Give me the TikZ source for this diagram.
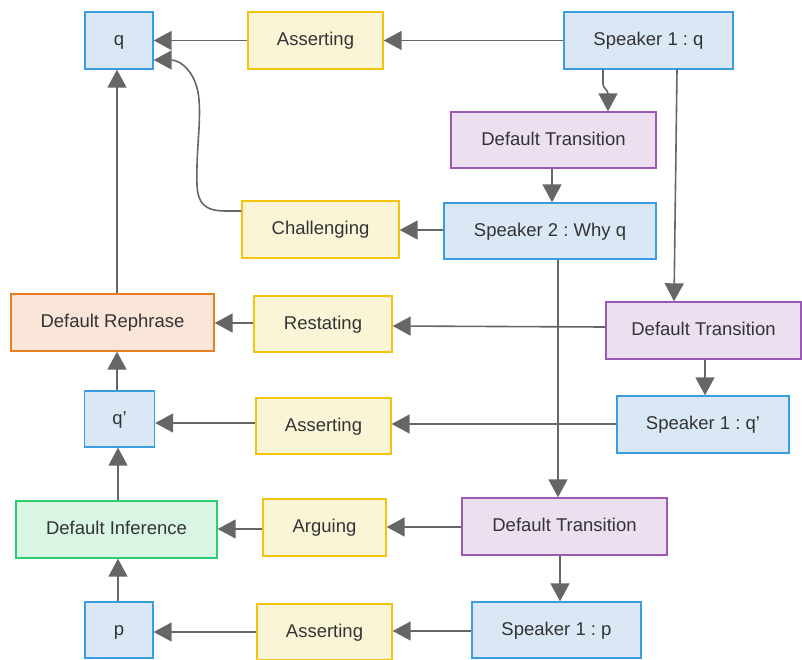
\documentclass[tikz,border=0pt]{standalone}
\usepackage{fontspec}
\setmainfont{Liberation Sans}
\usetikzlibrary{arrows.meta}
\frenchspacing

\definecolor{bluefill}{HTML}{DAE8F6}
\definecolor{bluedraw}{HTML}{3A9DE0}
\definecolor{yelfill}{HTML}{FBF5D8}
\definecolor{yeldraw}{HTML}{F2C40F}
\definecolor{purfill}{HTML}{EBDFF0}
\definecolor{purdraw}{HTML}{9B59B6}
\definecolor{orafill}{HTML}{FAE5D9}
\definecolor{oradraw}{HTML}{E67E22}
\definecolor{grefill}{HTML}{D9F5E4}
\definecolor{gredraw}{HTML}{2ECC71}
\definecolor{edgecol}{HTML}{666666}
\definecolor{txtcol}{HTML}{333333}

\tikzset{
  box/.style={draw, line width=1.4pt, inner sep=0pt, text=txtcol,
    text height=14pt, text depth=3.6pt,
    font=\fontsize{18.5}{22}\selectfont},
  speaker/.style={box, fill=bluefill, draw=bluedraw},
  act/.style={box, fill=yelfill, draw=yeldraw},
  transit/.style={box, fill=purfill, draw=purdraw},
  rephrase/.style={box, fill=orafill, draw=oradraw},
  infer/.style={box, fill=grefill, draw=gredraw},
  sz/.style 2 args={minimum width=#1pt, minimum height=#2pt},
  arr/.style={draw=edgecol, line width=1.6pt,
    -{Triangle[length=18pt,width=19pt,fill=edgecol]}},
}

\begin{document}
\begin{tikzpicture}[x=1pt,y=-1pt]
\useasboundingbox (0,0) rectangle (802,659);

% propositions and speaker moves
\node[speaker, sz={68}{57}]  (q)    at (119,40.5)   {q};
\node[act, sz={135}{57}]     (asA)  at (315.5,40.5) {Asserting};
\node[speaker, sz={169}{57}] (s1q)  at (648.5,40.5) {Speaker 1 : q};
\node[transit, sz={205}{56}] (dt1)  at (553.5,140)  {Default Transition};
\node[speaker, sz={212}{56}] (s2)   at (550,231)    {Speaker 2 : Why q};
\node[act, sz={157}{57}]     (chal) at (320.5,229.5){Challenging};
\node[rephrase, sz={203}{57}](reph) at (112.5,322.5){Default Rephrase};
\node[act, sz={138}{56}]     (rest) at (323,324)    {Restating};
\node[transit, sz={195}{57}] (dt2)  at (703.5,330.5){Default Transition};
\node[speaker, sz={70}{56}]  (qp)   at (119.5,419)  {q’};
\node[act, sz={135}{56}]     (asB)  at (323.5,426)  {Asserting};
\node[speaker, sz={172}{57}] (s1qp) at (703,424.5)  {Speaker 1 : q’};
\node[infer, sz={201}{57}]   (inf)  at (116.5,529.5){Default Inference};
\node[act, sz={123}{57}]     (arg)  at (324.5,527.5){Arguing};
\node[transit, sz={205}{57}] (dt3)  at (564.5,526.5){Default Transition};
\node[speaker, sz={68}{56}]  (p)    at (119,630)    {p};
\node[act, sz={135}{56}]     (asC)  at (324.5,632)  {Asserting};
\node[speaker, sz={169}{56}] (s1p)  at (556.5,630)  {Speaker 1 : p};

% connectors
\draw[arr] (s1q.west) -- (asA.east);
\draw[arr] (asA.west) -- (q.east);
\draw[arr, rounded corners=3pt] (603,0 |- s1q.south) -- (603,87) -- (608,91) -- (608,0 |- dt1.north);
\draw[arr] (552,0 |- dt1.south) -- (552,0 |- s2.north);
\draw[arr] (s2.west |- 0,230) -- (chal.east |- 0,230);
\draw[arr] (chal.west |- 0,211) -- (226,211)
  .. controls (204,211) and (198,203) .. (197,185)
  .. controls (196,150) and (201,125) .. (199,100)
  .. controls (197,72) and (180,60) .. (q.east |- 0,60);
\draw[arr] (117,0 |- reph.north) -- (117,0 |- q.south);
\draw[arr] (677,0 |- s1q.south) -- (674,0 |- dt2.north);
\draw[arr] (dt2.west |- 0,327) -- (rest.east |- 0,326);
\draw[arr] (rest.west |- 0,323) -- (reph.east |- 0,323);
\draw[arr] (705,0 |- dt2.south) -- (705,0 |- s1qp.north);
\draw[arr] (s1qp.west |- 0,424) -- (asB.east |- 0,424);
\draw[arr] (asB.west |- 0,423) -- (qp.east |- 0,423);
\draw[arr] (117,0 |- qp.north) -- (117,0 |- reph.south);
\draw[arr] (558,0 |- s2.south) -- (558,0 |- dt3.north);
\draw[arr] (dt3.west |- 0,527) -- (arg.east |- 0,527);
\draw[arr] (arg.west |- 0,529) -- (inf.east |- 0,529);
\draw[arr] (118,0 |- inf.north) -- (118,0 |- qp.south);
\draw[arr] (118,0 |- p.north) -- (118,0 |- inf.south);
\draw[arr] (560,0 |- dt3.south) -- (560,0 |- s1p.north);
\draw[arr] (s1p.west |- 0,631) -- (asC.east |- 0,631);
\draw[arr] (asC.west |- 0,632) -- (p.east |- 0,632);
\end{tikzpicture}
\end{document}
